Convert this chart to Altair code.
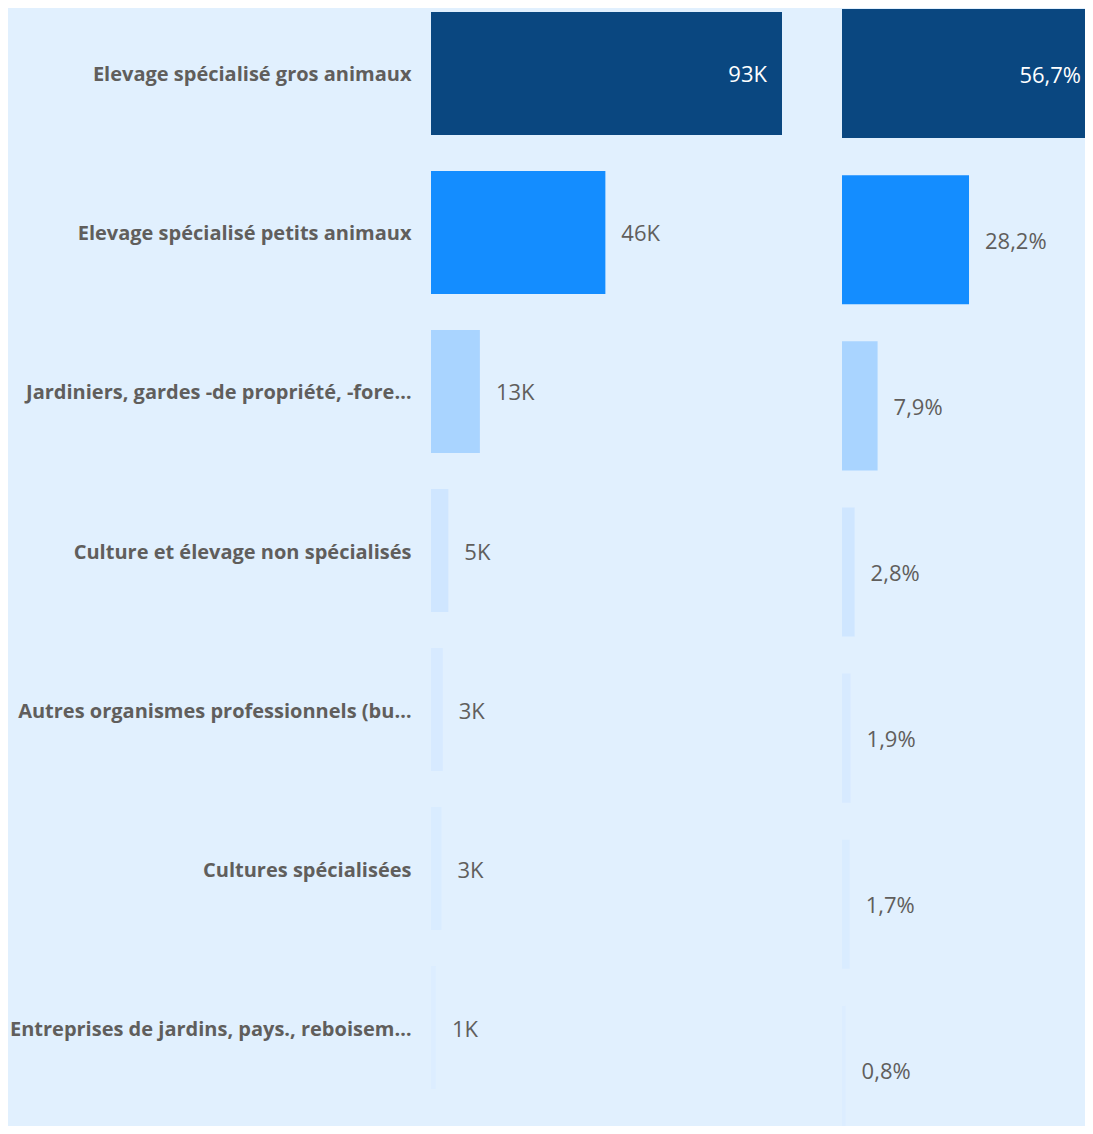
import altair as alt
import pandas as pd

categories = [
    "Elevage spécialisé gros animaux",
    "Elevage spécialisé petits animaux",
    "Jardiniers, gardes -de propriété, -fore…",
    "Culture et élevage non spécialisés",
    "Autres organismes professionnels (bu…",
    "Cultures spécialisées",
    "Entreprises de jardins, pays., reboisem…",
]
counts = [93000, 46200, 12950, 4600, 3120, 2790, 1310]
shares = [56.7, 28.2, 7.9, 2.8, 1.9, 1.7, 0.8]
colors = ["#0A4780", "#148DFF", "#A9D4FF", "#CFE6FF", "#D7EAFF", "#D9ECFF", "#DCEDFF"]

BG = "#E1F0FE"
GRAY = "#605E5C"
FONT = "Open Sans"

df = pd.DataFrame({"cat": categories, "n": counts, "pct": shares})

color = alt.Color("cat:N", scale=alt.Scale(domain=categories, range=colors), legend=None)

# ---- left panel: counts ----
y_left = alt.Y(
    "cat:N", sort=categories, title=None,
    scale=alt.Scale(paddingInner=0.2264, paddingOuter=0.025),
    axis=alt.Axis(domain=False, ticks=False, grid=False, labelPadding=20, labelOffset=2,
                  labelFont=FONT, labelFontWeight="bold", labelFontSize=20,
                  labelColor=GRAY, labelLimit=420, minExtent=423, maxExtent=423),
)
x_left = alt.X("n:Q", scale=alt.Scale(domain=[0, 93000], nice=False, zero=True), axis=None)

base_l = alt.Chart(df).encode(y=y_left)
bars_l = base_l.mark_bar().encode(x=x_left, color=color)
txt_out_l = base_l.transform_filter("datum.n < 80000").transform_calculate(
    lbl="format(datum.n/1000, '.0f') + 'K'"
).mark_text(align="left", dx=16, dy=2, font=FONT, fontSize=22, color=GRAY).encode(x=x_left, text="lbl:N")
txt_in_l = base_l.transform_filter("datum.n >= 80000").transform_calculate(
    lbl="format(datum.n/1000, '.0f') + 'K'"
).mark_text(align="right", dx=-15, dy=2, font=FONT, fontSize=22, color="white").encode(x=x_left, text="lbl:N")

left = alt.layer(bars_l, txt_out_l, txt_in_l).properties(width=351, height=1085)

# ---- right panel: shares ----
y_right = alt.Y(
    "cat:N", sort=categories, title=None, axis=None,
    scale=alt.Scale(paddingInner=0.223, paddingOuter=0, range=[1, 1127]),
)
x_right = alt.X("pct:Q", scale=alt.Scale(domain=[0, 53.95], nice=False, zero=True, clamp=True), axis=None)

base_r = alt.Chart(df).encode(y=y_right)
bars_r = base_r.mark_bar(clip=True).encode(x=x_right, color=color)
txt_out_r = base_r.transform_filter("datum.pct < 40").transform_calculate(
    lbl="replace(format(datum.pct, '.1f'), '.', ',') + '%'"
).mark_text(align="left", dx=16, dy=2, font=FONT, fontSize=22, color=GRAY, clip=True).encode(x=x_right, text="lbl:N")
txt_in_r = base_r.transform_filter("datum.pct >= 40").transform_calculate(
    lbl="replace(format(datum.pct, '.1f'), '.', ',') + '%'"
).mark_text(align="right", dx=-4, dy=2, font=FONT, fontSize=22, color="white").encode(x=x_right, text="lbl:N")

right = alt.layer(bars_r, txt_out_r, txt_in_r).properties(width=243, height=1118)

chart = alt.hconcat(left, right, spacing=60).properties(
    padding=0, background=BG
).configure_view(stroke=None)

chart.save("out.html", embed_options={"renderer": "svg", "actions": False})
